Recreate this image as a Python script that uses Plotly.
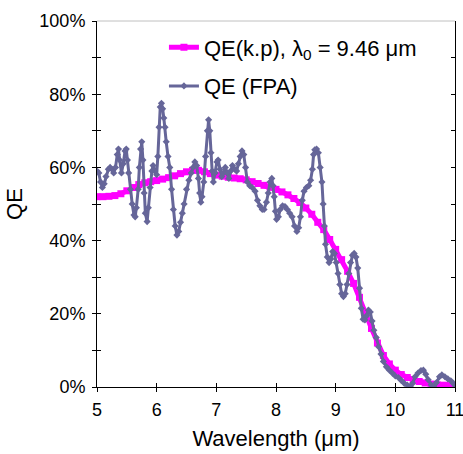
import plotly.graph_objects as go

# QE(k.p) model curve
kp_wl = [5.0, 5.1, 5.2, 5.3, 5.4, 5.5, 5.6, 5.7, 5.8, 5.9,
         6.0, 6.1, 6.2, 6.3, 6.4, 6.5, 6.6, 6.7, 6.8, 6.9,
         7.0, 7.1, 7.2, 7.3, 7.4, 7.5, 7.6, 7.7, 7.8, 7.9,
         8.0, 8.1, 8.2, 8.3, 8.4, 8.5, 8.6, 8.7, 8.8, 8.9,
         9.0, 9.1, 9.2, 9.3, 9.4, 9.5, 9.6, 9.7, 9.8, 9.9,
         10.0, 10.1, 10.2, 10.3, 10.4, 10.5, 10.6, 10.7, 10.8, 10.9, 11.0]
kp_qe = [52.0, 52.0, 52.1, 52.3, 52.8, 53.6, 54.5, 55.3, 55.8, 56.1,
         56.4, 56.8, 57.2, 57.7, 58.3, 58.8, 59.2, 59.2, 58.8, 58.3,
         57.9, 57.6, 57.3, 57.1, 56.9, 56.6, 56.1, 55.6, 55.1, 54.6,
         54.0, 53.3, 52.5, 51.5, 50.4, 48.9, 47.2, 45.0, 43.0, 40.3,
         37.6, 34.8, 31.6, 28.3, 24.5, 20.2, 16.0, 12.0, 8.6, 6.3,
         4.6, 3.4, 2.6, 2.0, 1.5, 1.1, 0.8, 0.6, 0.5, 0.4, 0.3]

# QE measured (FPA)
fpa_wl = [5.00, 5.03, 5.06, 5.09, 5.12, 5.15, 5.19, 5.22, 5.25, 5.28,
          5.31, 5.34, 5.36, 5.38, 5.41, 5.44, 5.47, 5.49, 5.51, 5.53,
          5.56, 5.59, 5.62, 5.64, 5.66, 5.69, 5.71, 5.73, 5.75, 5.77,
          5.79, 5.81, 5.84, 5.86, 5.89, 5.92, 5.94, 5.97, 6.00, 6.02,
          6.04, 6.06, 6.08, 6.10, 6.12, 6.14, 6.16, 6.19, 6.22, 6.25,
          6.28, 6.31, 6.34, 6.37, 6.40, 6.43, 6.46, 6.50, 6.54, 6.58,
          6.61, 6.64, 6.67, 6.70, 6.72, 6.74, 6.76, 6.79, 6.82, 6.85,
          6.87, 6.89, 6.91, 6.93, 6.95, 6.98, 7.01, 7.03, 7.06, 7.09,
          7.12, 7.15, 7.18, 7.21, 7.24, 7.27, 7.31, 7.34, 7.37, 7.40,
          7.43, 7.46, 7.49, 7.52, 7.56, 7.60, 7.65, 7.69, 7.73, 7.77,
          7.80, 7.84, 7.87, 7.90, 7.93, 7.95, 7.97, 7.99, 8.01, 8.04,
          8.07, 8.11, 8.15, 8.19, 8.23, 8.27, 8.31, 8.35, 8.38, 8.41,
          8.44, 8.47, 8.51, 8.55, 8.58, 8.61, 8.63, 8.65, 8.68, 8.71,
          8.74, 8.77, 8.79, 8.81, 8.83, 8.86, 8.89, 8.92, 8.95, 8.98,
          9.01, 9.04, 9.07, 9.10, 9.13, 9.16, 9.19, 9.22, 9.25, 9.28,
          9.31, 9.34, 9.37, 9.40, 9.43, 9.46, 9.49, 9.52, 9.55, 9.58,
          9.61, 9.64, 9.68, 9.72, 9.76, 9.80, 9.85, 9.90, 9.95, 10.00,
          10.05, 10.10, 10.15, 10.20, 10.25, 10.29, 10.33, 10.38, 10.43, 10.47,
          10.51, 10.55, 10.60, 10.64, 10.69, 10.74, 10.78, 10.83, 10.88, 10.93,
          10.97, 11.00]
fpa_qe = [59.0, 58.5, 56.0, 54.5, 55.5, 57.5, 59.5, 60.0, 59.5, 58.5,
          60.0, 63.5, 65.0, 62.0, 58.5, 61.0, 64.5, 65.0, 62.0, 58.5,
          54.0, 50.0, 47.0, 46.5, 49.0, 54.0, 60.0, 65.0, 67.0, 62.0,
          53.0, 47.5, 45.2, 49.0, 54.5, 59.0, 60.5, 59.0, 58.0, 63.0,
          71.0, 76.5, 77.5, 76.0, 73.5, 71.0, 67.0, 63.0, 60.0, 54.0,
          48.5, 44.0, 41.5, 42.5, 45.0, 47.5, 50.0, 54.0, 56.5, 58.5,
          60.0, 61.5, 60.5, 57.0, 53.0, 50.5, 52.0, 56.0, 63.0, 70.0,
          73.0, 70.0, 64.0, 59.0, 56.0, 58.5, 61.5, 62.0, 59.5, 57.5,
          58.5, 60.0, 58.5, 57.0, 59.0, 60.5, 59.5, 59.0, 61.0, 63.0,
          64.5, 63.5, 60.0, 56.0, 55.0, 54.5, 53.5, 51.0, 49.5, 48.5,
          48.5, 50.5, 53.0, 56.0, 57.0, 55.0, 52.0, 48.0, 45.8, 46.5,
          48.5, 49.5, 49.3, 48.5, 47.5, 46.5, 44.0, 42.5, 43.5, 46.5,
          51.0, 53.5, 54.5, 55.0, 56.5, 59.5, 63.5, 64.8, 65.0, 64.0,
          60.0, 56.0, 50.0, 44.0, 39.0, 35.5, 34.0, 35.0, 37.0, 36.5,
          34.0, 31.0, 28.0, 25.5, 24.7, 25.5, 28.0, 31.0, 34.0, 36.0,
          36.5, 35.5, 32.5, 27.0, 21.5, 18.5, 18.3, 19.5, 21.0, 20.5,
          18.0, 15.5, 13.5, 11.0, 9.0, 7.0, 5.5, 4.6, 3.8, 3.0,
          2.6, 1.8, 1.0, 0.5, 0.1, 1.0, 2.8, 3.8, 4.5, 4.6,
          3.5, 2.0, 0.6, 0.1, 1.2, 2.8, 3.3, 2.8, 2.2, 1.7,
          1.0, 0.5]

x_ticks = [5, 6, 7, 8, 9, 10, 11]
y_ticks = [0, 10, 20, 30, 40, 50, 60, 70, 80, 90, 100]
y_labels = ["0%", "", "20%", "", "40%", "", "60%", "", "80%", "", "100%"]

FONT = "Liberation Sans, Arial, sans-serif"

fig = go.Figure()
fig.add_trace(go.Scatter(
    x=kp_wl, y=kp_qe, mode="lines+markers",
    name="QE(k.p), λ<sub>0</sub> = 9.46 μm", legendgroup="kp",
    line=dict(color="#FF00FF", width=5),
    marker=dict(symbol="square", size=7, color="#FF00FF"),
))
fig.add_trace(go.Scatter(
    x=fpa_wl, y=fpa_qe, mode="lines+markers",
    name="QE (FPA)", legendgroup="fpa",
    line=dict(color="#666699", width=3),
    marker=dict(symbol="diamond", size=5.5, color="#666699"),
))

# invisible traces for secondary tick axes
fig.add_trace(go.Scatter(x=[5, 11], y=[0, 100], mode="markers",
                         marker=dict(opacity=0), showlegend=False,
                         hoverinfo="skip", xaxis="x", yaxis="y2"))
fig.add_trace(go.Scatter(x=[5, 11], y=[0, 100], mode="markers",
                         marker=dict(opacity=0), showlegend=False,
                         hoverinfo="skip", xaxis="x2", yaxis="y3"))

fig.update_layout(
    width=463, height=454,
    margin=dict(l=97, r=8, t=21, b=67),
    paper_bgcolor="white", plot_bgcolor="white",
    font=dict(family=FONT, size=18, color="black"),
    showlegend=True,
    legend=dict(x=0.187, y=0.985, xanchor="left", yanchor="top",
                bgcolor="rgba(0,0,0,0)", font=dict(size=22, family=FONT),
                itemwidth=30, tracegroupgap=7),
    xaxis=dict(range=[5, 11], tickvals=x_ticks, ticks="outside", ticklen=4,
               tickcolor="black", showline=True, linecolor="black", linewidth=1,
               showgrid=False, zeroline=False, mirror=False, automargin=False,
               ticklabeloverflow="allow", ticklabelstandoff=2,
               title=dict(text="Wavelength (μm)", font=dict(size=22), standoff=12),
               tickfont=dict(size=18)),
    xaxis2=dict(range=[5, 11], tickvals=x_ticks, ticks="inside", ticklen=4,
                tickcolor="black", showticklabels=False, overlaying="x",
                anchor="y3", showline=False, showgrid=False, zeroline=False,
                automargin=False),
    yaxis=dict(range=[0, 100], tickvals=y_ticks, ticktext=y_labels,
               ticks="outside", ticklen=4, tickcolor="black",
               showline=True, linecolor="black", linewidth=1,
               showgrid=False, zeroline=False, automargin=False,
               ticklabeloverflow="allow", ticklabelstandoff=3,
               title=dict(text="QE", font=dict(size=22), standoff=10),
               tickfont=dict(size=18)),
    yaxis2=dict(range=[0, 100], tickvals=y_ticks, ticks="inside", ticklen=4,
                tickcolor="black", showticklabels=False, overlaying="y",
                side="right", anchor="x", showline=True, linecolor="black",
                linewidth=1, showgrid=False, zeroline=False, automargin=False),
    yaxis3=dict(range=[0, 100], tickvals=y_ticks, ticks="inside", ticklen=4,
                tickcolor="black", showticklabels=False, overlaying="y",
                side="left", anchor="x2", showline=False, showgrid=False,
                zeroline=False, automargin=False),
    shapes=[dict(type="line", xref="paper", yref="paper", x0=0, x1=1,
                 y0=1, y1=1, line=dict(color="#C0C0C0", width=1))],
)

fig.write_html("out.html",
               config={"displayModeBar": False},
               post_script="document.body.style.margin='0';"
                           "document.body.style.overflow='hidden';")
